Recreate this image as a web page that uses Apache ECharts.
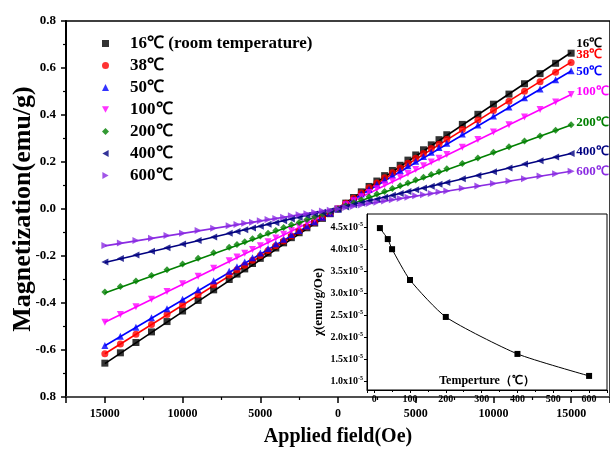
<!DOCTYPE html>
<html>
<head>
<meta charset="utf-8">
<script src="https://cdn.jsdelivr.net/npm/echarts@6/dist/echarts.min.js"></script>
<style>
  html, body { margin: 0; padding: 0; background: #fff; }
  #chart { width: 610px; height: 452px; }
</style>
</head>
<body>
<div id="chart"></div>
<script>
// Applied field (Oe) at which magnetization was recorded
const fields = [
  -15000, -14000, -13000, -12000, -11000, -10000, -9000, -8000, -7000,
  -6500, -6000, -5500, -5000, -4500, -4000, -3500, -3000, -2500, -2000, -1500, -1000, -500,
  0, 500, 1000, 1500, 2000, 2500, 3000, 3500, 4000, 4500, 5000, 5500, 6000, 6500,
  7000, 8000, 9000, 10000, 11000, 12000, 13000, 14000, 15000
];

// Magnetization (emu/g) for each annealing temperature
const m16 = [
  -0.656, -0.612, -0.568, -0.523, -0.479, -0.434, -0.389, -0.344, -0.300,
  -0.277, -0.255, -0.232, -0.210, -0.188, -0.166, -0.144, -0.122, -0.101, -0.080, -0.060, -0.040, -0.020,
  0.000, 0.025, 0.049, 0.073, 0.096, 0.119, 0.142, 0.164, 0.186, 0.208, 0.230, 0.252, 0.273, 0.295,
  0.316, 0.360, 0.403, 0.446, 0.489, 0.533, 0.576, 0.620, 0.663
];
const m38 = [
  -0.616, -0.574, -0.533, -0.491, -0.449, -0.407, -0.365, -0.322, -0.281,
  -0.259, -0.239, -0.218, -0.198, -0.177, -0.156, -0.136, -0.115, -0.095, -0.076, -0.056, -0.037, -0.019,
  0.000, 0.024, 0.046, 0.068, 0.090, 0.111, 0.133, 0.154, 0.174, 0.195, 0.216, 0.236, 0.257, 0.276,
  0.297, 0.338, 0.379, 0.419, 0.459, 0.501, 0.541, 0.582, 0.623
];
const m50 = [
  -0.581, -0.542, -0.503, -0.463, -0.424, -0.384, -0.344, -0.305, -0.265,
  -0.246, -0.226, -0.207, -0.187, -0.168, -0.148, -0.129, -0.109, -0.091, -0.072, -0.054, -0.035, -0.018,
  0.000, 0.023, 0.043, 0.064, 0.084, 0.105, 0.125, 0.145, 0.164, 0.184, 0.203, 0.223, 0.242, 0.262,
  0.280, 0.319, 0.357, 0.396, 0.434, 0.473, 0.511, 0.550, 0.588
];
const m100 = [
  -0.482, -0.449, -0.416, -0.384, -0.351, -0.318, -0.286, -0.252, -0.220,
  -0.204, -0.188, -0.172, -0.156, -0.139, -0.123, -0.107, -0.091, -0.076, -0.060, -0.044, -0.029, -0.015,
  0.000, 0.018, 0.035, 0.052, 0.070, 0.086, 0.103, 0.119, 0.135, 0.151, 0.168, 0.184, 0.200, 0.216,
  0.232, 0.263, 0.296, 0.328, 0.359, 0.392, 0.423, 0.455, 0.487
];
const m200 = [
  -0.353, -0.330, -0.306, -0.283, -0.259, -0.234, -0.210, -0.186, -0.163,
  -0.151, -0.139, -0.127, -0.115, -0.103, -0.091, -0.079, -0.067, -0.057, -0.045, -0.033, -0.022, -0.011,
  0.000, 0.014, 0.027, 0.039, 0.052, 0.064, 0.075, 0.087, 0.099, 0.111, 0.123, 0.135, 0.147, 0.159,
  0.171, 0.194, 0.217, 0.241, 0.265, 0.289, 0.311, 0.335, 0.358
];
const m400 = [
  -0.225, -0.211, -0.196, -0.180, -0.165, -0.149, -0.134, -0.119, -0.103,
  -0.096, -0.088, -0.081, -0.073, -0.065, -0.058, -0.050, -0.043, -0.036, -0.028, -0.021, -0.014, -0.007,
  0.000, 0.009, 0.018, 0.026, 0.034, 0.042, 0.050, 0.058, 0.066, 0.074, 0.082, 0.089, 0.097, 0.105,
  0.113, 0.129, 0.143, 0.159, 0.175, 0.191, 0.205, 0.221, 0.236
];
const m600 = [
  -0.155, -0.145, -0.134, -0.124, -0.113, -0.103, -0.092, -0.082, -0.071,
  -0.066, -0.061, -0.056, -0.050, -0.045, -0.040, -0.035, -0.029, -0.024, -0.020, -0.015, -0.009, -0.005,
  0.000, 0.006, 0.012, 0.017, 0.023, 0.029, 0.034, 0.039, 0.045, 0.050, 0.056, 0.061, 0.066, 0.072,
  0.077, 0.088, 0.098, 0.108, 0.119, 0.129, 0.140, 0.150, 0.161
];

// Linear fits: magnetization at the two ends of the field sweep
const fitFields = [-15000, 15000];
const fit16 = [-0.658, 0.666];
const fit38 = [-0.616, 0.625];
const fit50 = [-0.582, 0.587];
const fit100 = [-0.482, 0.487];
const fit200 = [-0.357, 0.357];
const fit400 = [-0.228, 0.236];
const fit600 = [-0.157, 0.161];

const seriesNames = ['16℃ (room temperature)', '38℃', '50℃', '100℃', '200℃', '400℃', '600℃'];
const endTags = ['16℃', '38℃', '50℃', '100℃', '200℃', '400℃', '600℃'];

// Susceptibility versus annealing temperature (inset)
const temps = [16, 38, 50, 100, 200, 400, 600];
const chi = [4.48e-5, 4.23e-5, 4.00e-5, 3.30e-5, 2.46e-5, 1.62e-5, 1.12e-5];

// Tick labels
const yTicks = [-0.8, -0.6, -0.4, -0.2, 0.0, 0.2, 0.4, 0.6, 0.8];
const yTickLabels = ['0.8', '-0.6', '-0.4', '-0.2', '0.0', '0.2', '0.4', '0.6', '0.8'];
const xTicks = [-15000, -10000, -5000, 0, 5000, 10000, 15000];
const xTickLabels = ['15000', '10000', '5000', '0', '5000', '10000', '15000'];

// ---- styling ----
const FONT = "'Liberation Serif', 'Times New Roman', serif";
const TRI_DOWN = 'path://M0,0L10,0L5,9Z';
const TRI_LEFT = 'path://M9,0L9,10L0,5Z';
const TRI_RIGHT = 'path://M0,0L0,10L9,5Z';
const colors = ['#000000', '#ff0000', '#0000ff', '#ff00ff', '#008000', '#000080', '#8a2be2'];
const symbols = ['rect', 'circle', 'triangle', TRI_DOWN, 'diamond', TRI_LEFT, TRI_RIGHT];
const tagShift = [-9, -7, 1, -3, -2, -2, 0];

const measured = [m16, m38, m50, m100, m200, m400, m600];
const fits = [fit16, fit38, fit50, fit100, fit200, fit400, fit600];

const series = [];
measured.forEach((vals, i) => {
  series.push({
    name: seriesNames[i],
    type: 'scatter',
    xAxisIndex: 0, yAxisIndex: 0,
    symbol: symbols[i],
    symbolSize: 7,
    itemStyle: { color: colors[i] },
    data: fields.map((h, k) => [h, vals[k]]),
    z: 3
  });
});
fits.forEach((vals, i) => {
  series.push({
    name: endTags[i] + ' fit',
    type: 'line',
    xAxisIndex: 0, yAxisIndex: 0,
    showSymbol: false,
    symbol: 'none',
    lineStyle: { color: colors[i], width: 1.6 },
    itemStyle: { color: colors[i] },
    data: fitFields.map((h, k) => [h, vals[k]]),
    endLabel: {
      show: true,
      formatter: endTags[i],
      color: colors[i],
      fontFamily: FONT,
      fontWeight: 'bold',
      fontSize: 13,
      distance: 5,
      offset: [0, tagShift[i]]
    },
    z: 2
  });
});
series.push({
  name: 'chi',
  type: 'line',
  xAxisIndex: 1, yAxisIndex: 1,
  smooth: 0.2,
  symbol: 'rect',
  symbolSize: 6,
  itemStyle: { color: '#000' },
  lineStyle: { color: '#000', width: 1 },
  data: temps.map((t, k) => [t, chi[k]]),
  z: 5
});

const tickLabelFor = (ticks, labels, v) => {
  for (let k = 0; k < ticks.length; k++) {
    if (Math.abs(ticks[k] - v) < 1e-6 * Math.max(1, Math.abs(v))) return labels[k];
  }
  return '';
};

const option = {
  animation: false,
  backgroundColor: '#fff',
  textStyle: { fontFamily: FONT },
  grid: [
    { left: 66, top: 21, width: 548, height: 383, show: true, borderColor: '#000', borderWidth: 1.5, backgroundColor: 'transparent' },
    { left: 367, top: 214, width: 240, height: 176, show: true, borderColor: '#000', borderWidth: 1, backgroundColor: '#fff', z: 4 }
  ],
  legend: {
    data: seriesNames.map((n, i) => ({ name: n, icon: symbols[i] })),
    orient: 'vertical',
    left: 97, top: 30,
    itemWidth: 7, itemHeight: 7,
    itemGap: 5,
    textStyle: { fontFamily: FONT, fontWeight: 'bold', fontSize: 17, color: '#000', lineHeight: 16, padding: [0, 0, 0, 16] }
  },
  xAxis: [
    {
      gridIndex: 0, type: 'value',
      min: -17500, max: 17500, splitNumber: 7,
      name: 'Applied field(Oe)', nameLocation: 'middle', nameGap: 30, nameMoveOverlap: false,
      nameTextStyle: { fontFamily: FONT, fontWeight: 'bold', fontSize: 20, color: '#000' },
      axisLine: { show: true, onZero: false, lineStyle: { color: '#555', width: 1.5 } },
      axisTick: { show: true, inside: false, length: 6, lineStyle: { color: '#000', width: 1.5 } },
      minorTick: { show: true, splitNumber: 2, length: 3, lineStyle: { color: '#000', width: 1.2 } },
      splitLine: { show: false },
      axisLabel: {
        showMinLabel: false, showMaxLabel: false, margin: 11,
        fontFamily: FONT, fontWeight: 'bold', fontSize: 12, color: '#000',
        formatter: v => tickLabelFor(xTicks, xTickLabels, v)
      }
    },
    {
      gridIndex: 1, type: 'value',
      min: -20, max: 650, splitNumber: 7,
      name: 'Temperture（℃）', nameLocation: 'middle', nameGap: -15, nameMoveOverlap: false,
      nameTextStyle: { fontFamily: FONT, fontWeight: 'bold', fontSize: 12, color: '#000' },
      axisLine: { show: true, onZero: false, lineStyle: { color: '#000', width: 1 } },
      axisTick: { show: true, inside: false, length: 3, lineStyle: { color: '#000' } },
      minorTick: { show: true, splitNumber: 2, length: 2, lineStyle: { color: '#000' } },
      splitLine: { show: false },
      axisLabel: {
        showMinLabel: false, showMaxLabel: false, margin: 4,
        fontFamily: FONT, fontWeight: 'bold', fontSize: 10, color: '#000'
      },
      z: 6
    }
  ],
  yAxis: [
    {
      gridIndex: 0, type: 'value',
      min: -0.8, max: 0.8, interval: 0.2,
      name: 'Magnetization(emu/g)', nameLocation: 'middle', nameGap: 30, nameMoveOverlap: false,
      nameTextStyle: { fontFamily: FONT, fontWeight: 'bold', fontSize: 26, color: '#000' },
      axisLine: { show: true, onZero: false, lineStyle: { color: '#000', width: 2 } },
      axisTick: { show: true, inside: false, length: 5, lineStyle: { color: '#000', width: 1.5 } },
      minorTick: { show: true, splitNumber: 2, length: 3, lineStyle: { color: '#000', width: 1.2 } },
      splitLine: { show: false },
      axisLabel: {
        margin: 10,
        fontFamily: FONT, fontWeight: 'bold', fontSize: 13, color: '#000',
        formatter: v => tickLabelFor(yTicks, yTickLabels, v)
      }
    },
    {
      gridIndex: 1, type: 'value',
      min: 0.8e-5, max: 4.8e-5, splitNumber: 8,
      name: 'χ(emu/g/Oe)', nameLocation: 'middle', nameGap: 42, nameMoveOverlap: false,
      nameTextStyle: { fontFamily: FONT, fontWeight: 'bold', fontSize: 13, color: '#000' },
      axisLine: { show: true, onZero: false, lineStyle: { color: '#000', width: 1 } },
      axisTick: { show: true, inside: false, length: 3, lineStyle: { color: '#000' } },
      minorTick: { show: false },
      splitLine: { show: false },
      axisLabel: {
        showMinLabel: false, showMaxLabel: false, margin: 4,
        fontFamily: FONT, fontWeight: 'bold', fontSize: 10, color: '#000',
        formatter: v => (v / 1e-5).toFixed(1) + 'x10{s|-5}',
        rich: { s: { fontFamily: FONT, fontWeight: 'bold', fontSize: 6, color: '#000', verticalAlign: 'top', padding: [0, 0, 6, 0] } }
      },
      z: 6
    }
  ],
  series: series
};

const chart = echarts.init(document.getElementById('chart'), null, { renderer: 'canvas' });
chart.setOption(option);
</script>
</body>
</html>
